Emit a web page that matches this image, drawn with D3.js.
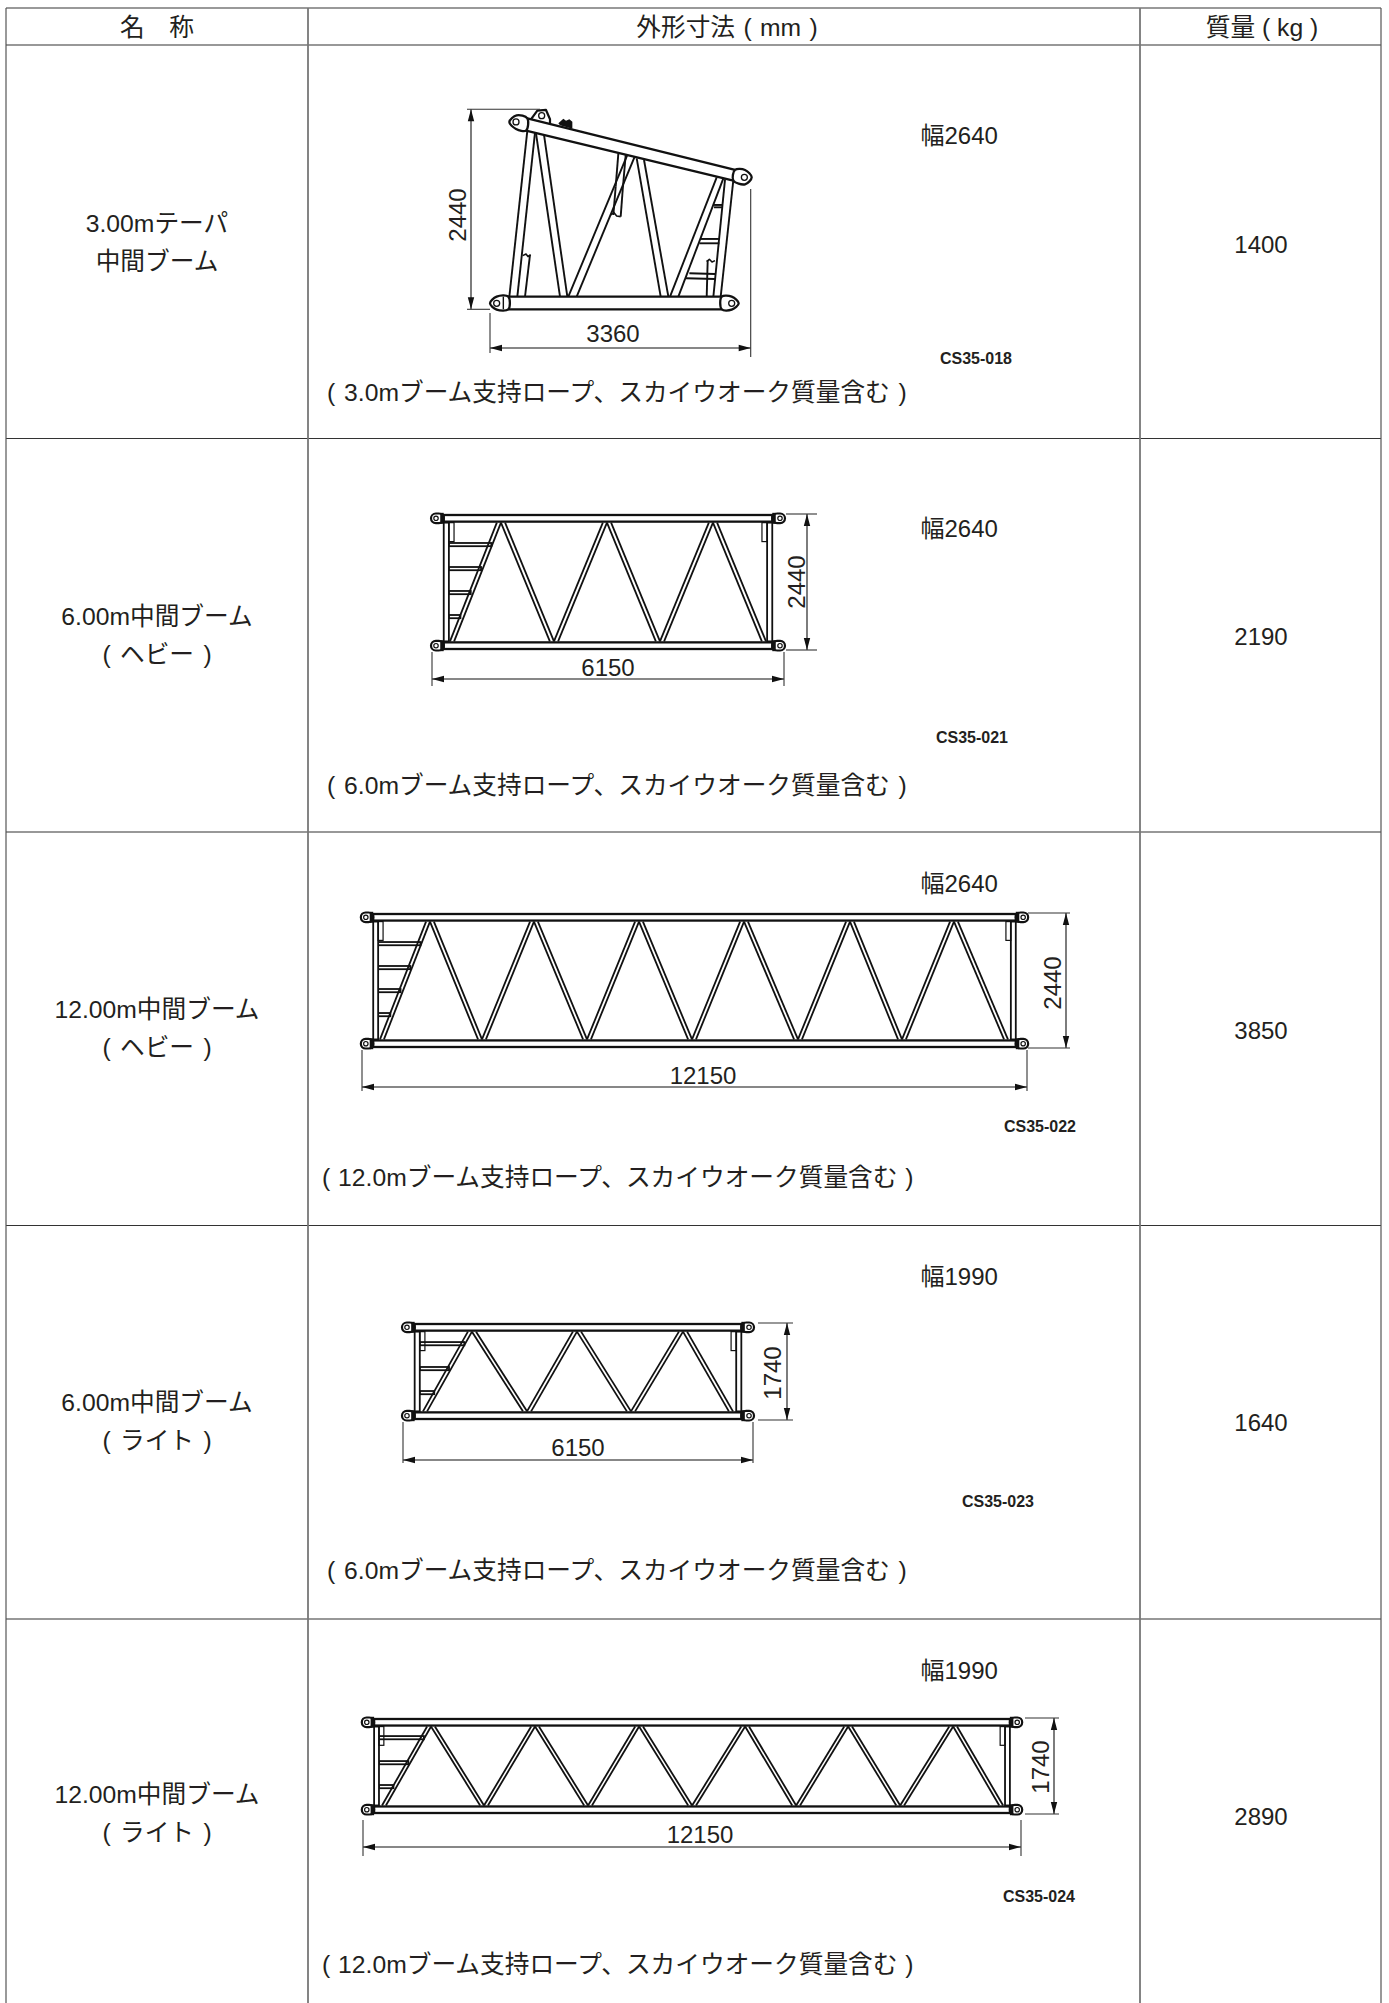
<!DOCTYPE html>
<html><head><meta charset="utf-8">
<script src="https://cdn.jsdelivr.net/npm/d3@7"></script>
<style>html,body{margin:0;background:#fff}svg{display:block}text{font-family:"Liberation Sans","Noto Sans CJK JP",sans-serif;fill:#231f20}</style>
</head><body><div id="c"></div>
<script>
const headers=["名\u3000称","外形寸法 ( mm )","質量 ( kg )"];
const nameLine1=["3.00mテーパ","6.00m中間ブーム","12.00m中間ブーム","6.00m中間ブーム","12.00m中間ブーム"];
const nameLine2=["中間ブーム","( ヘビー )","( ヘビー )","( ライト )","( ライト )"];
const lengthsMm=[3360,6150,12150,6150,12150];
const heightsMm=[2440,2440,2440,1740,1740];
const widthsMm=[2640,2640,2640,1990,1990];
const massesKg=[1400,2190,3850,1640,2890];
const notes=["( 3.0mブーム支持ロープ、スカイウオーク質量含む )","( 6.0mブーム支持ロープ、スカイウオーク質量含む )","( 12.0mブーム支持ロープ、スカイウオーク質量含む )","( 6.0mブーム支持ロープ、スカイウオーク質量含む )","( 12.0mブーム支持ロープ、スカイウオーク質量含む )"];
const codes=["CS35-018","CS35-021","CS35-022","CS35-023","CS35-024"];
// web panel points along each boom, in mm from the left end (bottom, top, bottom, ...)
const webNodes=[null,
 [314,1205,2131,3057,3983,4909,5835],
 [329,1242,2192,3142,4111,5061,6030,6980,7966,8916,9866,10816,11802],
 [351,1212,2179,3057,4006,4920,5798],
 [351,1256,2235,3177,4156,5098,6077,7056,7998,8958,9919,10897,11820]];
const rungHeights=[null,[1884,1453,1023,592],[1879,1446,1030,596],[1362,915,484],[1376,923,489]];
// taper section outline, in drawing units read from the sheet
const taperStruts=[[262,122,208,620],[285,128,232,620],[288,130,360,620],[312,135,382,620],[385,620,562,195],[410,620,584,200],[590,205,662,620],[612,210,685,620],[690,620,830,262],[715,620,850,265],[855,268,820,620],[880,270,842,620],[255,620,270,495],[800,620,803,510],[822,352,848,352],[822,345,848,345],[782,447,838,447],[778,460,838,460],[748,550,825,552],[738,565,825,567],[535,190,527,290],[557,195,548,300],[548,300,542,380],[527,290,520,375]];
const taperCaps=[[248,497,258,492,264,500,272,494],[512,375,522,368,530,378,542,380],[800,515,808,508,816,516,825,512]];

const W=1389,H=2003;
const colX=[6,308,1140,1381];
const rowY=d3.scaleLinear().domain([0,1]).range([45,438.5]);
const svg=d3.select("#c").append("svg").attr("width",W).attr("height",H).attr("viewBox",`0 0 ${W} ${H}`);
const grid=svg.append("g");
// grid
grid.append("line").attr("x1",colX[0]).attr("x2",colX[3]).attr("y1",8).attr("y2",8).attr("stroke","#777").attr("stroke-width",1.6);
d3.range(0,5).forEach(i=>grid.append("line").attr("x1",colX[0]).attr("x2",colX[3]).attr("y1",rowY(i)).attr("y2",rowY(i)).attr("stroke","#333").attr("stroke-width",1.2));
colX.forEach((x,i)=>grid.append("line").attr("x1",x).attr("x2",x).attr("y1",8).attr("y2",H).attr("stroke",i==0||i==3?"#555":"#777").attr("stroke-width",i==0||i==3?1.2:1.8));
const label=(g,t,x,y,o={})=>{const e=g.append("text").attr("x",x).attr("y",y).attr("text-anchor",o.anchor||"middle").attr("dominant-baseline","alphabetic").attr("font-size",o.size||24).attr("font-weight",o.bold?"bold":"normal").attr("word-spacing",o.ws||0).text(t);if(o.rot)e.attr("transform",`rotate(-90 ${x} ${y})`);return e;};
const base=8.5,cjk=24.7;
headers.forEach((h,i)=>label(svg,h,[157,727,1262][i],36,{size:cjk,ws:[0,1.5,0][i]}));
nameLine1.forEach((t,i)=>{
 const cy=[243,636,1029,1422,1814][i];
 label(svg,t,157,cy-11,{size:cjk});label(svg,nameLine2[i],157,cy+27,{size:cjk,ws:2.5});
 label(svg,massesKg[i],1261,[244,636,1030,1422,1816][i]+base,{});
 label(svg,"幅"+widthsMm[i],920.5,[135,528,883,1276,1670][i]+base,{anchor:"start"});
 label(svg,notes[i],[327,327,322,327,322][i],[392,785,1177,1570,1964][i]+base,{anchor:"start",size:cjk,ws:[2,2,1,2,1][i]});
 label(svg,codes[i],[976,972,1040,998,1039][i],[358,737,1126,1501,1896][i]+5.5,{size:16,bold:true});
});
const ink="#111";
function arrow(g,x1,y1,x2,y2){
 g.append("line").attr("x1",x1).attr("y1",y1).attr("x2",x2).attr("y2",y2).attr("stroke",ink).attr("stroke-width",1.1);
 const head=(x,y,dx,dy)=>g.append("path").attr("d",d3.line()([[x,y],[x+dx*12-dy*3.2,y+dy*12+dx*3.2],[x+dx*12+dy*3.2,y+dy*12-dx*3.2]]) +"Z").attr("fill",ink);
 const L=Math.hypot(x2-x1,y2-y1),ux=(x2-x1)/L,uy=(y2-y1)/L;
 head(x1,y1,ux,uy);head(x2,y2,-ux,-uy);
}
function ext(g,x1,y1,x2,y2){g.append("line").attr("x1",x1).attr("y1",y1).attr("x2",x2).attr("y2",y2).attr("stroke","#333").attr("stroke-width",1.1);}

// layout of the four parallel booms on the sheet
const layout=[null,
 {xL:432,xR:784,yB:650,yT:514,hArrow:679,hLab:[608,667],vArrow:807,vLab:[796,582],extTop:[786,817],extH:[652,686]},
 {xL:362,xR:1027,yB:1048,yT:913,hArrow:1087,hLab:[703,1075],vArrow:1066,vLab:[1052,983],extTop:[1028,1070],extH:[1050,1091]},
 {xL:403,xR:753,yB:1420,yT:1323,hArrow:1460,hLab:[578,1447],vArrow:787,vLab:[772,1373],extTop:[758,793],extH:[1422,1463]},
 {xL:363,xR:1021,yB:1814,yT:1718,hArrow:1847,hLab:[700,1834],vArrow:1054,vLab:[1040,1767],extTop:[1025,1059],extH:[1820,1856]}];
const chordMm=155,endMm=205,postMm=90,halfMm=36,offMm=36,stubMm=340;
for(let k=1;k<5;k++){
 const a=layout[k],len=lengthsMm[k],hgt=heightsMm[k];
 const x=d3.scaleLinear().domain([0,len]).range([a.xL,a.xR]);
 const y=d3.scaleLinear().domain([0,hgt]).range([a.yB,a.yT]);
 const g=svg.append("g").attr("fill","none").attr("stroke",ink);
 const nodes=webNodes[k];
 // rungs
 const nodeA=nodes[0],nodeB=nodes[1];
 rungHeights[k].forEach(h=>{
  const xe=nodeA+(nodeB-nodeA)*(h-chordMm)/(hgt-2*chordMm);
  g.append("rect").attr("x",x(endMm+postMm)).attr("width",x(xe)-x(endMm+postMm)).attr("y",y(h)-2).attr("height",3.2).attr("fill","#fff").attr("stroke-width",1.8);
 });
 // web members
 d3.pairs(nodes).forEach(([n0,n1],i)=>{
  const up=i%2==0;
  const yB=y(chordMm),yT=y(hgt-chordMm);
  const lo=up?n0:n1,hi=up?n1:n0,sg=up?1:-1;
  [-halfMm,halfMm].forEach(d=>g.append("line").attr("x1",x(lo+sg*offMm+d)).attr("y1",yB).attr("x2",x(hi-sg*offMm+d)).attr("y2",yT).attr("stroke-width",1.8));
 });
 // posts
 [[endMm,endMm+postMm],[len-endMm-postMm,len-endMm]].forEach(p=>g.append("rect").attr("x",x(p[0])).attr("width",x(p[1])-x(p[0])).attr("y",y(hgt-chordMm)).attr("height",y(chordMm)-y(hgt-chordMm)).attr("fill","#fff").attr("stroke-width",1.8));
 // short stubs
 [[endMm+postMm,endMm+postMm+90],[len-endMm-postMm-90,len-endMm-postMm]].forEach(p=>g.append("rect").attr("x",x(p[0])).attr("width",x(p[1])-x(p[0])).attr("y",y(hgt-chordMm)).attr("height",y(hgt-chordMm-stubMm)-y(hgt-chordMm)).attr("stroke-width",1.2));
 // chords and pin lugs
 [[hgt-chordMm,hgt],[0,chordMm]].forEach(c=>{
  g.append("rect").attr("x",x(endMm)).attr("width",x(len-endMm)-x(endMm)).attr("y",y(c[1])+1).attr("height",y(c[0])-y(c[1])-2).attr("fill","#fff").attr("stroke-width",2.3);
  const cy=(y(c[0])+y(c[1]))/2;
  [[70,endMm,1],[len-70,len-endMm,-1]].forEach(([pin,end,dir])=>{
   const px=x(pin),ex=x(end),l=Math.min(px,ex)-(dir>0?5:0),r=Math.max(px,ex)+(dir<0?5:0);
   g.append("rect").attr("x",l).attr("width",r-l).attr("y",cy-4.8).attr("height",9.6).attr("rx",4.8).attr("fill","#fff").attr("stroke-width",2.2);
   g.append("rect").attr("x",dir>0?ex-3.5:ex).attr("width",3.5).attr("y",cy-5.5).attr("height",11).attr("fill",ink).attr("stroke","none");
   g.append("circle").attr("cx",px).attr("cy",cy).attr("r",2.2).attr("stroke-width",1.2);
  });
 });
 // dimensions
 const d=svg.append("g");
 arrow(d,x(0),a.hArrow,x(len),a.hArrow);
 ext(d,x(0),a.extH[0],x(0),a.extH[1]);ext(d,x(len),a.extH[0],x(len),a.extH[1]);
 arrow(d,a.vArrow,y(hgt),a.vArrow,y(0));
 ext(d,a.extTop[0],y(hgt),a.extTop[1],y(hgt));ext(d,a.extTop[0],y(0),a.extTop[1],y(0));
 label(d,len,a.hLab[0],a.hLab[1]+8.5,{});
 label(d,hgt,a.vLab[0]+8.5,a.vLab[1],{rot:true});
}
// taper section
{
 const ux=d3.scaleLinear().domain([150,932]).range([490,750.7]);
 const uy=d3.scaleLinear().domain([58,658]).range([109.3,309.3]);
 const P=(a,b)=>[ux(a),uy(b)];
 const g=svg.append("g").attr("fill","none").attr("stroke",ink).attr("stroke-linejoin","round");
 taperStruts.forEach(s=>g.append("line").attr("x1",ux(s[0])).attr("y1",uy(s[1])).attr("x2",ux(s[2])).attr("y2",uy(s[3])).attr("stroke-width",1.9));
 taperCaps.forEach(c=>g.append("path").attr("d",d3.line()(d3.range(0,8,2).map(i=>P(c[i],c[i+1])))).attr("stroke-width",1.6));
 // blob
 g.append("path").attr("d",d3.line()([[355,100],[370,86],[378,92],[388,88],[397,95],[397,116],[360,106]].map(p=>P(p[0],p[1])))+"Z").attr("fill",ink).attr("stroke","none");
 // upper lug
 g.append("path").attr("d",d3.line()([[270,92],[292,62],[318,60],[330,88],[330,104]].map(p=>P(p[0],p[1])))).attr("fill","#fff").attr("stroke-width",2.2);
 g.append("circle").attr("cx",ux(305)).attr("cy",uy(77)).attr("r",3).attr("stroke-width",1.3);
 // chord
 g.append("path").attr("d",d3.line()([[262,85],[885,240],[880,272],[258,122]].map(p=>P(p[0],p[1])))+"Z").attr("fill","#fff").attr("stroke-width",2.3);
 // end lugs
 const lug=(cx,cy,pts)=>{
  g.append("path").attr("d",d3.line().curve(d3.curveCatmullRomClosed)(pts.map(p=>P(p[0],p[1])))).attr("fill","#fff").attr("stroke-width",2.3);
  g.append("circle").attr("cx",ux(cx)).attr("cy",uy(cy)).attr("r",3).attr("stroke-width",1.3);
 };
 lug(228,96,[[262,85],[230,76],[208,96],[228,117],[258,122]]);
 lug(913,262,[[885,240],[915,240],[935,262],[915,283],[880,272]]);
 g.append("path").attr("d",d3.line()([[190,620],[845,620],[845,658],[190,658]].map(p=>P(p[0],p[1])))+"Z").attr("fill","#fff").attr("stroke-width",2.3);
 lug(170,640,[[205,620],[170,620],[150,640],[170,659],[205,658]]);
 lug(875,640,[[845,620],[875,620],[896,640],[875,659],[845,658]]);
 g.append("line").attr("x1",ux(190)).attr("x2",ux(190)).attr("y1",uy(620)).attr("y2",uy(658)).attr("stroke-width",1.4);
 // dims
 const d=svg.append("g");
 arrow(d,471,uy(58),471,uy(658));
 ext(d,467,uy(58),ux(300),uy(58));ext(d,467,uy(658),ux(150),uy(658));
 arrow(d,ux(150),348,ux(932),348);
 ext(d,ux(150),313,ux(150),353);ext(d,ux(932),189,ux(932),357);
 label(d,lengthsMm[0],613,333+8.5,{});
 label(d,heightsMm[0],457+8.5,215,{rot:true});
}
</script></body></html>
